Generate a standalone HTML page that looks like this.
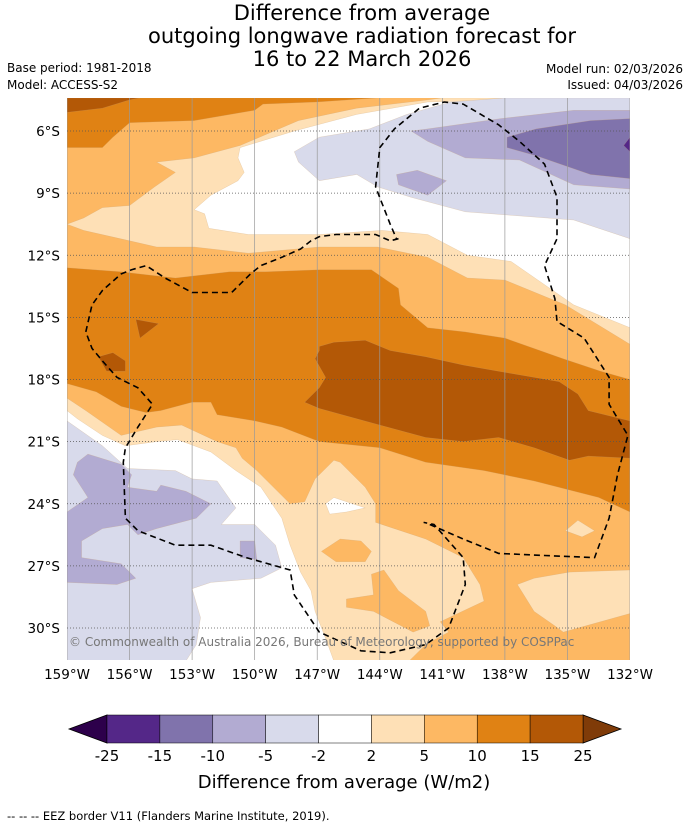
<!DOCTYPE html>
<html><head><meta charset="utf-8"><style>
body{margin:0;background:#fff;font-family:"Liberation Sans",sans-serif}
svg text{font-family:"DejaVu Sans","Liberation Sans",sans-serif}
</style></head><body>
<svg id="c" width="690" height="827" viewBox="0 0 690 827" xmlns="http://www.w3.org/2000/svg">
<text x="362" y="20" font-size="21" text-anchor="middle">Difference from average</text>
<text x="362" y="43" font-size="21" text-anchor="middle">outgoing longwave radiation forecast for</text>
<text x="362" y="66" font-size="21" text-anchor="middle">16 to 22 March 2026</text>
<text x="7" y="72" font-size="12">Base period: 1981-2018</text>
<text x="7" y="89" font-size="12">Model: ACCESS-S2</text>
<text x="683" y="73" font-size="12" text-anchor="end">Model run: 02/03/2026</text>
<text x="683" y="89" font-size="12" text-anchor="end">Issued: 04/03/2026</text>
<defs><clipPath id="mc"><rect x="67" y="98" width="563" height="562"/></clipPath></defs>
<g id="map" clip-path="url(#mc)"></g>
<g id="axes"></g>
<g id="cbar"></g>
<text x="344" y="788" font-size="18" text-anchor="middle">Difference from average (W/m2)</text>
<text x="7" y="820" font-size="11.5">--  --  -- EEZ border V11 (Flanders Marine Institute, 2019).</text>
</svg>
<script>
const lonTicks=[-159,-156,-153,-150,-147,-144,-141,-138,-135,-132];
const lonTickLabels=["159°W","156°W","153°W","150°W","147°W","144°W","141°W","138°W","135°W","132°W"];
const latTicks=[-6,-9,-12,-15,-18,-21,-24,-27,-30];
const latTickLabels=["6°S","9°S","12°S","15°S","18°S","21°S","24°S","27°S","30°S"];
const levels=[-25,-15,-10,-5,-2,2,5,10,15,25];
const levelColors=["#542788","#8073ac","#b2abd2","#d8daeb","#ffffff","#fee0b6","#fdb863","#e08214","#b35806"];
const topOrange=[[-159,-4.4],[-159,-6.8],[-157.3,-6.8],[-156.8,-6.3],[-156,-5.6],[-152.9,-5.5],[-150,-5],[-149.6,-4.7],[-147,-4.6],[-144.1,-4.4]];
const topDark=[[-159,-4.4],[-159,-5.1],[-157.3,-4.9],[-156,-4.5],[-155.5,-4.4]];
const lightNorth=[[-158.2,-10.2],[-157.3,-9.7],[-156,-9.6],[-154.8,-8.7],[-153.8,-8],[-154.7,-7.5],[-152.9,-7.3],[-150.7,-6.7],[-147.9,-5.5],[-145.1,-4.9],[-141.7,-4.5],[-141,-4.4],[-132,-4.4],[-132,-16.3],[-135.1,-14.4],[-138,-13.2],[-139.8,-13.1],[-141.7,-12.1],[-144.1,-11.6],[-146.9,-11.6],[-150.3,-11.9],[-152.9,-11.6],[-154.7,-11.6],[-156,-11.3],[-158.2,-10.8],[-159,-10.5]];
const whiteNorth=[[-150.7,-6.8],[-148.1,-6],[-145.1,-5.2],[-141.7,-4.6],[-138.2,-4.5],[-132,-4.4],[-132,-15.5],[-134.7,-14.4],[-137.7,-12.3],[-139.8,-12],[-141.7,-11],[-143.9,-10.8],[-146.9,-11],[-150.3,-11],[-152.2,-10.7],[-152.4,-10],[-152.9,-9.8],[-152.1,-9.1],[-150.8,-8.4],[-150.5,-8],[-150.8,-7.3]];
const lpNorth=[[-148.1,-7],[-147.9,-7.5],[-146.9,-8.4],[-145.1,-8.1],[-144.1,-8.7],[-142.5,-9.2],[-139.9,-9.9],[-137.3,-10.1],[-134.7,-10.3],[-132,-11.2],[-132,-4.4],[-138,-4.4],[-140.6,-4.6],[-142.7,-5.2],[-144.5,-5.9],[-146.9,-6.3]];
const mpNorth=[[-142.5,-6],[-141.7,-5.9],[-138.2,-5.4],[-134.7,-5],[-132,-5],[-132,-8.8],[-134.7,-8.6],[-137.3,-7.4],[-139.9,-7.3],[-141.7,-6.5]];
const mpBlob=[[-143.2,-8.1],[-142.2,-7.9],[-140.8,-8.4],[-141.7,-9.1],[-143.1,-8.6]];
const dpNorth=[[-137.9,-6.3],[-136.5,-5.9],[-133.9,-5.5],[-132,-5.4],[-132,-8.3],[-133.9,-8.1],[-136.5,-7.2],[-137.9,-6.8]];
const deepPurple=[[-132.3,-6.7],[-132,-6.3],[-132,-7]];
const orangeMid=[[-159,-12.6],[-156.4,-12.8],[-153.8,-13.1],[-151.2,-12.8],[-149.5,-12.8],[-146.9,-12.7],[-144.4,-12.7],[-143.1,-13.6],[-143,-14.4],[-141.7,-15.5],[-139.9,-15.7],[-138,-16],[-135.2,-17],[-133.4,-17.6],[-132,-18],[-132,-24.4],[-133.5,-23.7],[-136.6,-22.9],[-139,-22.4],[-141.8,-22],[-144,-21.3],[-146.9,-21],[-148.7,-20.3],[-150,-20],[-151.8,-19.7],[-152.1,-19.1],[-153,-19.1],[-154.5,-19.5],[-155.2,-19.6],[-156.4,-19.3],[-157.6,-18.6],[-159,-18.2]];
const darkPatchA=[[-155.7,-15.1],[-154.6,-15.3],[-155.5,-16]];
const darkPatchB=[[-157.5,-16.9],[-156.8,-16.7],[-156.2,-17.1],[-156.2,-17.6],[-157.1,-17.6]];
const darkBand=[[-146.9,-16.4],[-146.2,-16.2],[-144.7,-16.1],[-143.5,-16.6],[-141.8,-16.9],[-140,-17.3],[-138.3,-17.6],[-135.4,-18.1],[-134.5,-18.7],[-134,-19.5],[-132,-20],[-132,-21.8],[-134,-21.7],[-134.9,-21.9],[-136.6,-21.3],[-138.3,-20.8],[-140,-21],[-141.8,-20.8],[-144,-20.2],[-146.9,-19.4],[-147.6,-19.1],[-146.9,-18.4],[-146.6,-17.9],[-147.1,-17],[-146.9,-16.6]];
const lightSouth=[[-159,-18.9],[-158.1,-19.5],[-156.4,-20.7],[-154.7,-20.3],[-153.5,-20.2],[-151.8,-21],[-150.9,-21.3],[-150.6,-21.8],[-149.9,-22.4],[-148.3,-24],[-147.6,-23.9],[-147.1,-22.8],[-146.2,-21.9],[-145.9,-22],[-144.7,-23.2],[-144.2,-24],[-144.2,-24.9],[-141.8,-25.7],[-140,-26.6],[-139.2,-27.9],[-139,-28.7],[-141.1,-29.7],[-140.7,-30.2],[-141.8,-30.8],[-142.6,-31.6],[-159,-31.6]];
const lightSE=[[-137.4,-27.9],[-136.6,-27.6],[-134.9,-27.3],[-132,-27.2],[-132,-29.3],[-135.2,-30.2],[-135.6,-29.9],[-136.6,-29.2]];
const lightBlob=[[-135.1,-25.3],[-134.5,-24.8],[-133.7,-25.3],[-134.3,-25.6]];
const orangePatchA=[[-146.8,-26.3],[-145.9,-25.7],[-144.9,-25.8],[-144.4,-26.3],[-144.7,-26.8],[-146.1,-26.8]];
const orangePatchB=[[-144.4,-27.4],[-143.8,-27.2],[-143.1,-28.2],[-141.8,-29.2],[-141.6,-29.9],[-142.4,-30.2],[-144.3,-29.2],[-145.6,-29],[-145.6,-28.6],[-144.3,-28.4]];
const whiteBlob=[[-146.6,-24],[-146.2,-23.7],[-144.7,-24.2],[-145.6,-24.4],[-146.4,-24.5]];
const whiteSouth=[[-159,-19.5],[-158.5,-19.9],[-157.3,-20.7],[-156.2,-21.2],[-154.7,-21],[-153.7,-20.9],[-152.1,-21.5],[-150.9,-22.4],[-149.7,-23.2],[-148.7,-24.7],[-148.3,-26],[-147.8,-27.3],[-147.3,-28.2],[-147.1,-29.2],[-146.6,-30.5],[-146.2,-31.6],[-159,-31.6]];
const lpSouth=[[-159,-20],[-157.3,-21.2],[-156.1,-22.3],[-153.8,-22.4],[-153,-22.8],[-151.8,-22.9],[-150.9,-24.2],[-151.6,-25],[-150,-25],[-149,-26],[-148.7,-27.1],[-149.7,-27.6],[-152.1,-27.8],[-153,-28.1],[-152.6,-29.5],[-152.8,-30.8],[-153.3,-31.6],[-159,-31.6]];
const mpSouth=[[-158.5,-22],[-158,-21.6],[-156.4,-22.1],[-155.9,-22.6],[-156.1,-23.2],[-154.7,-23.4],[-154.5,-23.1],[-153.3,-23.4],[-152.1,-24],[-152.8,-24.7],[-154.7,-25.2],[-155.6,-25.5],[-156.1,-25],[-157.3,-25.2],[-158.3,-25.8],[-158.3,-26.6],[-156.4,-26.9],[-155.7,-27.6],[-156.6,-27.9],[-159,-27.8],[-159,-24.4],[-158,-23.7],[-158.7,-22.6]];
const mpSouthPatch=[[-150.7,-25.8],[-150,-25.8],[-149.9,-26.7],[-150.7,-26.6]];
const eezWest=[[-143.1,-11.2],[-143.5,-11.3],[-144.2,-11],[-146.1,-11],[-146.9,-11.1],[-147.3,-11.3],[-147.8,-11.7],[-148.7,-12.1],[-149.7,-12.5],[-150.2,-12.9],[-151.1,-13.8],[-153,-13.8],[-154.3,-13.1],[-155.2,-12.5],[-155.9,-12.7],[-156.4,-12.9],[-157.3,-13.7],[-157.8,-14.4],[-158.1,-15.7],[-157.8,-16.5],[-157.3,-17.1],[-156.6,-17.9],[-155.6,-18.4],[-154.9,-19.2],[-155.6,-20.3],[-156.2,-21.3],[-156.3,-22],[-156.2,-24.7],[-155.6,-25.3],[-153.8,-26],[-152.1,-26],[-150.4,-26.6],[-148.3,-27.2],[-148.1,-28.4],[-146.9,-30.2],[-144.9,-31.1],[-143.5,-31.2],[-141.8,-30.8],[-140.7,-30],[-139.9,-27.9],[-140,-26.6],[-141.4,-25],[-141.9,-24.9]];
const eezEast=[[-141.6,-25],[-140,-25.7],[-138.3,-26.4],[-136.1,-26.5],[-133.7,-26.6],[-133,-24.7],[-132.6,-22.6],[-132.1,-20.7],[-133,-19.2],[-133,-17.9],[-134.2,-16],[-135.5,-15.2],[-135.6,-14.1],[-136.1,-12.5],[-135.5,-11.2],[-135.5,-9.2],[-136.1,-7.6],[-137.3,-6.5],[-138.3,-5.7],[-140,-4.7],[-140.9,-4.6],[-142.1,-4.9],[-143.3,-5.9],[-144,-6.8],[-144.2,-8.7],[-143.5,-10.5],[-143.2,-11.2]];
const regions=[[7,topOrange,"top-orange-band"],[8,topDark,"top-dark-corner"],[5,lightNorth,"north-light-band"],[4,whiteNorth,"north-white-band"],[3,lpNorth,"north-light-purple"],[2,mpNorth,"north-mid-purple"],[2,mpBlob,"north-purple-blob"],[1,dpNorth,"north-dark-purple"],[0,deepPurple,"deep-purple-spot"],[7,orangeMid,"central-orange-band"],[8,darkPatchA,"dark-patch-a"],[8,darkPatchB,"dark-patch-b"],[8,darkBand,"central-dark-band"],[5,lightSouth,"south-light-band"],[5,lightSE,"southeast-light-area"],[5,lightBlob,"east-light-blob"],[6,orangePatchA,"south-orange-patch-a"],[6,orangePatchB,"south-orange-patch-b"],[4,whiteBlob,"white-blob"],[4,whiteSouth,"south-white-band"],[3,lpSouth,"southwest-light-purple"],[2,mpSouth,"southwest-mid-purple"],[2,mpSouthPatch,"south-purple-patch"]];

const NS="http://www.w3.org/2000/svg";
const X0=67,X1=630,Y6=131,PXLAT=497/24;
function xs(lon){return X0+(lon+159)*(X1-X0)/27;}
function ys(lat){return Y6+(-6-lat)*PXLAT;}
function mk(t,a,p){const e=document.createElementNS(NS,t);for(const k in a)e.setAttribute(k,a[k]);p.appendChild(e);return e;}
function pts(arr){return arr.map(p=>xs(p[0]).toFixed(1)+","+ys(p[1]).toFixed(1)).join(" ");}
const map=document.getElementById("map"),axes=document.getElementById("axes"),cb=document.getElementById("cbar");
const base=mk("rect",{x:X0,y:98,width:X1-X0,height:562,fill:levelColors[6]},map);


regions.forEach(r=>{
 const pg=mk("polygon",{points:pts(r[1]),fill:levelColors[r[0]],stroke:"#c9a070","stroke-width":"0.4","stroke-opacity":"0.5"},map);
 
 
});
lonTicks.forEach((v,i)=>{
 const l=mk("line",{x1:xs(v),x2:xs(v),y1:98,y2:660,stroke:"#999","stroke-width":"0.7"},map);
 
 
 const t=mk("text",{x:xs(v),y:679,"font-size":"13.5","text-anchor":"middle"},axes);t.textContent=lonTickLabels[i];
 
 
});
latTicks.forEach((v,i)=>{
 const l=mk("line",{x1:X0,x2:X1,y1:ys(v),y2:ys(v),stroke:"#555","stroke-width":"0.8","stroke-dasharray":"1,2"},map);
 
 
 const t=mk("text",{x:60,y:ys(v)+5,"font-size":"13.5","text-anchor":"end"},axes);t.textContent=latTickLabels[i];
 
 
});
[eezWest,eezEast].forEach((e,i)=>{
 const pl=mk("polyline",{points:pts(e),fill:"none",stroke:"#000","stroke-width":"1.6","stroke-dasharray":"6,4"},map);
 
 
});
const cr=mk("text",{x:69,y:646,"font-size":"12",fill:"#777"},map);cr.textContent="© Commonwealth of Australia 2026, Bureau of Meteorology, supported by COSPPac";


const CB0=107,CB1=583,CBY=715,CBH=28,bw=(CB1-CB0)/(levels.length-1);
const lt=mk("polygon",{points:`69,${CBY+CBH/2} ${CB0},${CBY} ${CB0},${CBY+CBH}`,fill:"#2d004b",stroke:"#000","stroke-width":"0.8"},cb);


const rt=mk("polygon",{points:`621,${CBY+CBH/2} ${CB1},${CBY} ${CB1},${CBY+CBH}`,fill:"#7f3b08",stroke:"#000","stroke-width":"0.8"},cb);


levelColors.forEach((c,i)=>{
 const r=mk("rect",{x:CB0+i*bw,y:CBY,width:bw,height:CBH,fill:c,stroke:"#000","stroke-width":"0.5"},cb);
 
 
});
levels.forEach((v,i)=>{
 const t=mk("text",{x:CB0+i*bw,y:761,"font-size":"15","text-anchor":"middle"},cb);t.textContent=v;
 
 
});
</script>
</body></html>
